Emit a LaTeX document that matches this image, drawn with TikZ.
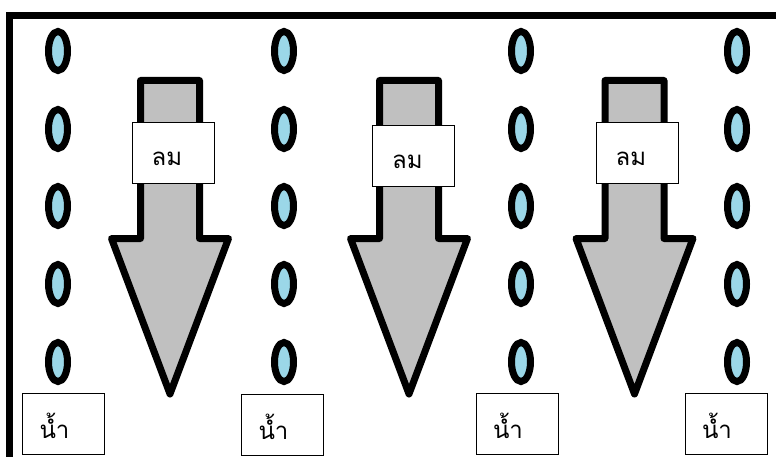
\documentclass[tikz,border=0pt]{standalone}
\usepackage{fontspec}
\newfontfamily\thaifont[Script=Thai]{Loma}
\definecolor{drop}{RGB}{155,215,232}
\definecolor{windgray}{RGB}{192,192,192}
\begin{document}
\begin{tikzpicture}[x=1pt,y=-1pt,
  frame/.style={line width=7pt, line join=miter},
  raindrop/.style={draw=black, line width=7pt, fill=drop},
  windarrow/.style={draw=black, fill=windgray, line width=7pt, line join=round},
  lbox/.style={draw=black, line width=0.9pt, fill=white, minimum width=82pt, minimum height=61pt, inner sep=0pt},
  ltext/.style={font=\thaifont\fontsize{24}{28}\selectfont, inner sep=0pt}
]
\useasboundingbox (0,0) rectangle (776,457);
\fill[white] (0,0) rectangle (776,457);

% outer frame (right and bottom edges run off the page)
\coordinate (fbl) at (9.5,457);
\coordinate (ftl) at (9.5,15.5);
\coordinate (ftr) at (776,15.5);
\draw[frame] (fbl) -- (ftl) -- (ftr);

% columns of rain drops
\foreach \cx in {58,284,521,737}{
  \foreach \cy in {51,129,206,284,362}{
    \draw[raindrop] (\cx,\cy) ellipse [x radius=9.5, y radius=19.5];
  }
}

% wind arrows
\foreach \c in {170,409,634.5}{
  \draw[windarrow] (\c-29.5,80.5) -- (\c+29.5,80.5) -- (\c+29.5,238.5)
    -- (\c+58.5,238.5) -- (\c,394) -- (\c-58.5,238.5) -- (\c-29.5,238.5) -- cycle;
}

% wind labels
\node[lbox] (w1) at (173,152.5) {};
\node[lbox] (w2) at (413.5,156) {};
\node[lbox] (w3) at (637,153) {};
\node[ltext] (w1t) at ([xshift=-6pt,yshift=-6pt]w1.center) {ลม};
\node[ltext] (w2t) at ([xshift=-6pt,yshift=-6pt]w2.center) {ลม};
\node[ltext] (w3t) at ([xshift=-6pt,yshift=-6pt]w3.center) {ลม};

% water labels
\node[lbox] (r1) at (63.5,423.5) {};
\node[lbox] (r2) at (282.5,425) {};
\node[lbox] (r3) at (517,423.5) {};
\node[lbox] (r4) at (726,423.5) {};
\foreach \n in {r1,r2,r3,r4}{
  \node[ltext] (\n t) at ([xshift=-9pt,yshift=-2pt]\n.center) {น้ำ};
}
\end{tikzpicture}
\end{document}
